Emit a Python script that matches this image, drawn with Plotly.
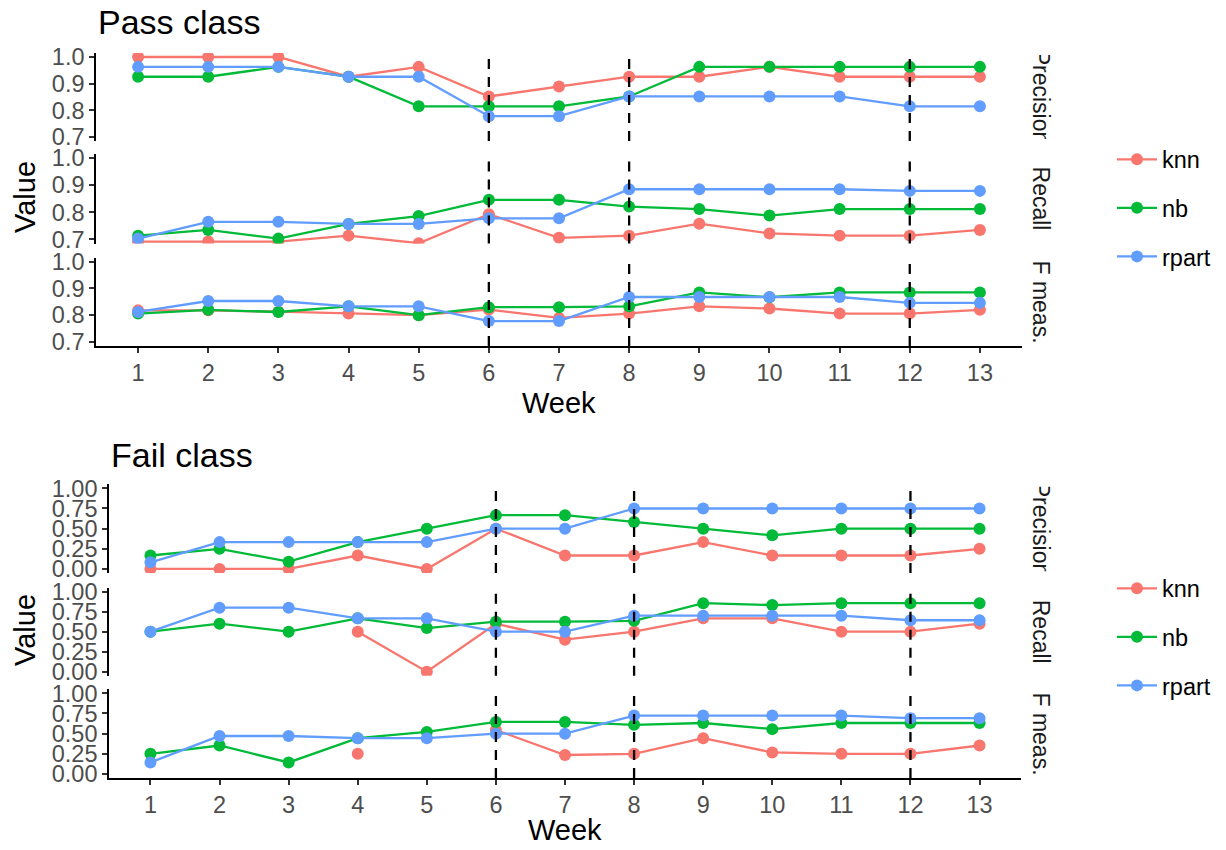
import plotly.graph_objects as go

W, H = 1226, 850

weeks = list(range(1, 14))
models = ["knn", "nb", "rpart"]
metrics = ["Precision", "Recall", "F meas."]
model_colors = {"knn": "#F8766D", "nb": "#00BA38", "rpart": "#619CFF"}
cut_weeks = [6, 8, 12]

# ---- Pass class ----
pass_prec_knn = [1.0, 1.0, 1.0, 0.926, 0.963, 0.852, 0.889, 0.926, 0.926, 0.963, 0.926, 0.926, 0.926]
pass_prec_nb = [0.926, 0.926, 0.963, 0.926, 0.815, 0.815, 0.815, 0.852, 0.963, 0.963, 0.963, 0.963, 0.963]
pass_prec_rpart = [0.963, 0.963, 0.963, 0.926, 0.926, 0.778, 0.778, 0.852, 0.852, 0.852, 0.852, 0.815, 0.815]

pass_rec_knn = [0.692, 0.692, 0.692, 0.714, 0.686, 0.793, 0.706, 0.714, 0.758, 0.722, 0.714, 0.714, 0.735]
pass_rec_nb = [0.714, 0.735, 0.703, 0.757, 0.786, 0.846, 0.846, 0.821, 0.812, 0.788, 0.812, 0.812, 0.812]
pass_rec_rpart = [0.703, 0.765, 0.765, 0.757, 0.757, 0.778, 0.778, 0.885, 0.885, 0.885, 0.885, 0.879, 0.879]

pass_f_knn = [0.818, 0.818, 0.813, 0.806, 0.800, 0.821, 0.790, 0.806, 0.833, 0.825, 0.806, 0.806, 0.820]
pass_f_nb = [0.806, 0.820, 0.812, 0.833, 0.800, 0.830, 0.830, 0.833, 0.885, 0.867, 0.885, 0.885, 0.885]
pass_f_rpart = [0.812, 0.853, 0.853, 0.833, 0.833, 0.778, 0.778, 0.868, 0.868, 0.868, 0.868, 0.846, 0.846]

# ---- Fail class ----
fail_prec_knn = [0.0, 0.0, 0.0, 0.167, 0.0, 0.5, 0.167, 0.167, 0.333, 0.167, 0.167, 0.167, 0.25]
fail_prec_nb = [0.167, 0.25, 0.091, 0.333, 0.5, 0.667, 0.667, 0.583, 0.5, 0.417, 0.5, 0.5, 0.5]
fail_prec_rpart = [0.083, 0.333, 0.333, 0.333, 0.333, 0.5, 0.5, 0.75, 0.75, 0.75, 0.75, 0.75, 0.75]

fail_rec_knn = [None, None, None, 0.5, 0.0, 0.6, 0.4, 0.5, 0.667, 0.667, 0.5, 0.5, 0.6]
fail_rec_nb = [0.5, 0.6, 0.5, 0.667, 0.545, 0.625, 0.625, 0.636, 0.857, 0.833, 0.857, 0.857, 0.857]
fail_rec_rpart = [0.5, 0.8, 0.8, 0.667, 0.667, 0.5, 0.5, 0.7, 0.7, 0.7, 0.7, 0.643, 0.643]

fail_f_knn = [None, None, None, 0.25, None, 0.545, 0.235, 0.25, 0.444, 0.267, 0.25, 0.25, 0.353]
fail_f_nb = [0.25, 0.353, 0.143, 0.444, 0.522, 0.645, 0.645, 0.609, 0.632, 0.556, 0.632, 0.632, 0.632]
fail_f_rpart = [0.143, 0.471, 0.471, 0.444, 0.444, 0.5, 0.5, 0.724, 0.724, 0.724, 0.724, 0.692, 0.692]

pass_ticks = [0.7, 0.8, 0.9, 1.0]
fail_ticks = [0.0, 0.25, 0.5, 0.75, 1.0]

pass_data = {
    "Precision": {"knn": pass_prec_knn, "nb": pass_prec_nb, "rpart": pass_prec_rpart},
    "Recall": {"knn": pass_rec_knn, "nb": pass_rec_nb, "rpart": pass_rec_rpart},
    "F meas.": {"knn": pass_f_knn, "nb": pass_f_nb, "rpart": pass_f_rpart},
}
fail_data = {
    "Precision": {"knn": fail_prec_knn, "nb": fail_prec_nb, "rpart": fail_prec_rpart},
    "Recall": {"knn": fail_rec_knn, "nb": fail_rec_nb, "rpart": fail_rec_rpart},
    "F meas.": {"knn": fail_f_knn, "nb": fail_f_nb, "rpart": fail_f_rpart},
}

FONT = "Liberation Sans, Arial, sans-serif"
TICK_COLOR = "#4D4D4D"
TICK_SIZE = 23.5

# layout geometry in pixels
blocks = [
    dict(name="Pass class", data=pass_data, x0=96, x1=1022,
         panels=[(53, 141), (154, 243.5), (257.6, 346)],
         yrange=[0.685, 1.015], ticks=pass_ticks, fmt=".1f",
         title_xy=(96, 22), week_y=403, value_y=197, legend="legend"),
    dict(name="Fail class", data=fail_data, x0=109, x1=1021,
         panels=[(484.3, 573), (587.7, 675.7), (689.3, 778)],
         yrange=[-0.05, 1.05], ticks=fail_ticks, fmt=".2f",
         title_xy=(109, 455), week_y=830, value_y=630, legend="legend2"),
]


def px_x(p):
    return p / W


def px_y(p):
    return 1 - p / H


fig = go.Figure()
layout = {}
shapes = []
annotations = []
ax = 0
for b in blocks:
    for r, metric in enumerate(metrics):
        ax += 1
        xn = "x" if ax == 1 else f"x{ax}"
        yn = "y" if ax == 1 else f"y{ax}"
        top, bot = b["panels"][r]
        bottom_row = r == len(metrics) - 1
        layout["xaxis" if ax == 1 else f"xaxis{ax}"] = dict(
            domain=[px_x(b["x0"]), px_x(b["x1"])], anchor=yn, automargin=False,
            range=[0.4, 13.6], tickmode="array", tickvals=weeks,
            showticklabels=bottom_row, showline=bottom_row, linecolor="black", linewidth=1.6,
            ticks="outside" if bottom_row else "", ticklen=5, tickwidth=1.5, tickcolor="#333333",
            tickfont=dict(size=TICK_SIZE, color=TICK_COLOR, family=FONT),
            showgrid=False, zeroline=False, fixedrange=True,
        )
        layout["yaxis" if ax == 1 else f"yaxis{ax}"] = dict(
            domain=[px_y(bot), px_y(top)], anchor=xn, automargin=False,
            range=b["yrange"], tickmode="array", tickvals=b["ticks"], tickformat=b["fmt"],
            showline=True, linecolor="black", linewidth=1.6,
            ticks="outside", ticklen=5, tickwidth=1.5, tickcolor="#333333",
            tickfont=dict(size=TICK_SIZE, color=TICK_COLOR, family=FONT),
            showgrid=False, zeroline=False, fixedrange=True,
        )
        for m in models:
            fig.add_trace(go.Scatter(
                x=weeks, y=b["data"][metric][m], mode="lines+markers", name=m,
                xaxis=xn, yaxis=yn,
                line=dict(color=model_colors[m], width=2.3),
                marker=dict(color=model_colors[m], size=12),
                legend=b["legend"], legendgroup=b["legend"] + m,
                showlegend=(r == 0), connectgaps=False,
            ))
        for cw in cut_weeks:
            shapes.append(dict(type="line", xref=xn, yref=f"{yn} domain", x0=cw, x1=cw, y0=0, y1=1,
                               line=dict(color="black", width=2.3, dash="10px,8px"), layer="above"))
        # strip label
        ph = bot - top
        annotations.append(dict(
            text=metric, xref="paper", yref="paper", x=px_x(1041), y=px_y((top + bot) / 2),
            xanchor="center", yanchor="middle", textangle=90, showarrow=False,
            width=ph - 4, height=28,
            font=dict(size=23, color="#1A1A1A", family=FONT),
        ))
    # titles
    tx, ty = b["title_xy"]
    annotations.append(dict(text=b["name"], xref="paper", yref="paper", x=px_x(tx), y=px_y(ty),
                            xanchor="left", yanchor="middle", showarrow=False,
                            font=dict(size=34, color="black", family=FONT)))
    annotations.append(dict(text="Week", xref="paper", yref="paper",
                            x=px_x((b["x0"] + b["x1"]) / 2), y=px_y(b["week_y"]),
                            xanchor="center", yanchor="middle", showarrow=False,
                            font=dict(size=29, color="black", family=FONT)))
    annotations.append(dict(text="Value", xref="paper", yref="paper", x=px_x(25), y=px_y(b["value_y"]),
                            xanchor="center", yanchor="middle", textangle=-90, showarrow=False,
                            font=dict(size=29, color="black", family=FONT)))

leg_common = dict(xanchor="left", yanchor="middle", bgcolor="rgba(0,0,0,0)",
                  font=dict(size=23.5, color="black", family=FONT), tracegroupgap=15,
                  itemwidth=40)
layout["legend"] = dict(x=px_x(1112), y=px_y(208), **leg_common)
layout["legend2"] = dict(x=px_x(1112), y=px_y(637), **leg_common)

fig.update_layout(
    width=W, height=H, margin=dict(l=0, r=0, t=0, b=0, pad=0, autoexpand=False),
    paper_bgcolor="white", plot_bgcolor="white",
    shapes=shapes, annotations=annotations,
    font=dict(family=FONT), **layout,
)

fig.write_html("out.html", config={"displayModeBar": False},
               post_script="document.body.style.margin='0';document.body.style.overflow='hidden';")
